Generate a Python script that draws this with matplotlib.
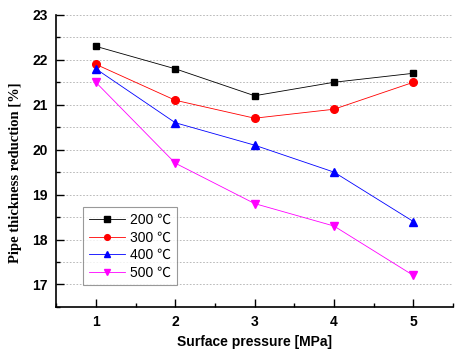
import matplotlib
matplotlib.use("Agg")
import matplotlib.pyplot as plt
from matplotlib.ticker import MultipleLocator

pressure = [1, 2, 3, 4, 5]
t200 = [22.3, 21.8, 21.2, 21.5, 21.7]
t300 = [21.9, 21.1, 20.7, 20.9, 21.5]
t400 = [21.8, 20.6, 20.1, 19.5, 18.4]
t500 = [21.5, 19.7, 18.8, 18.3, 17.2]
labels = ["200 \u2103", "300 \u2103", "400 \u2103", "500 \u2103"]

fig = plt.figure(figsize=(4.6, 3.54), dpi=100)
ax = fig.add_axes([0.122, 0.133, 0.863, 0.825])

ax.plot(pressure, t200, color="black", lw=0.6, marker="s", ms=5, label=labels[0])
ax.plot(pressure, t300, color="red", lw=0.6, marker="o", ms=5.5, label=labels[1])
ax.plot(pressure, t400, color="blue", lw=0.6, marker="^", ms=6, label=labels[2])
ax.plot(pressure, t500, color="magenta", lw=0.6, marker="v", ms=6, label=labels[3])

ax.set_xlim(0.5, 5.5)
ax.set_ylim(16.5, 23)
ax.xaxis.set_major_locator(MultipleLocator(1))
ax.xaxis.set_minor_locator(MultipleLocator(0.5))
ax.yaxis.set_major_locator(MultipleLocator(1))
ax.yaxis.set_minor_locator(MultipleLocator(0.5))
ax.tick_params(which="major", direction="in", length=6, width=1, pad=6)
ax.tick_params(which="minor", direction="in", length=3, width=1)
ax.grid(axis="y", which="both", linestyle=(0, (2, 2)), color="#b0b0b0", lw=0.6)
ax.spines["top"].set_visible(False)
ax.spines["right"].set_visible(False)
ax.spines["left"].set_linewidth(1.2)
ax.spines["bottom"].set_linewidth(1.2)

for lab in ax.get_xticklabels() + ax.get_yticklabels():
    lab.set_fontfamily("Liberation Sans")
    lab.set_fontweight("bold")
    lab.set_fontsize(10)

ax.set_xlabel("Surface pressure [MPa]", fontfamily="Liberation Sans",
              fontweight="bold", fontsize=10)
ax.set_ylabel("Pipe thickness reduction [%]", fontfamily="Liberation Serif",
              fontweight="bold", fontsize=10.5)
ax.yaxis.set_label_coords(-0.085, 0.46)

leg = ax.legend(loc="lower left", bbox_to_anchor=(0.068, 0.075), frameon=True,
                fancybox=False, edgecolor="#808080", markerscale=0.75,
                prop={"family": ["Liberation Sans", "Noto Sans CJK SC"], "size": 10},
                handlelength=2.6, labelspacing=0.25, borderpad=0.4,
                borderaxespad=0, handletextpad=0.4)
leg.get_frame().set_linewidth(0.8)

fig.savefig("out.png", dpi=100)
